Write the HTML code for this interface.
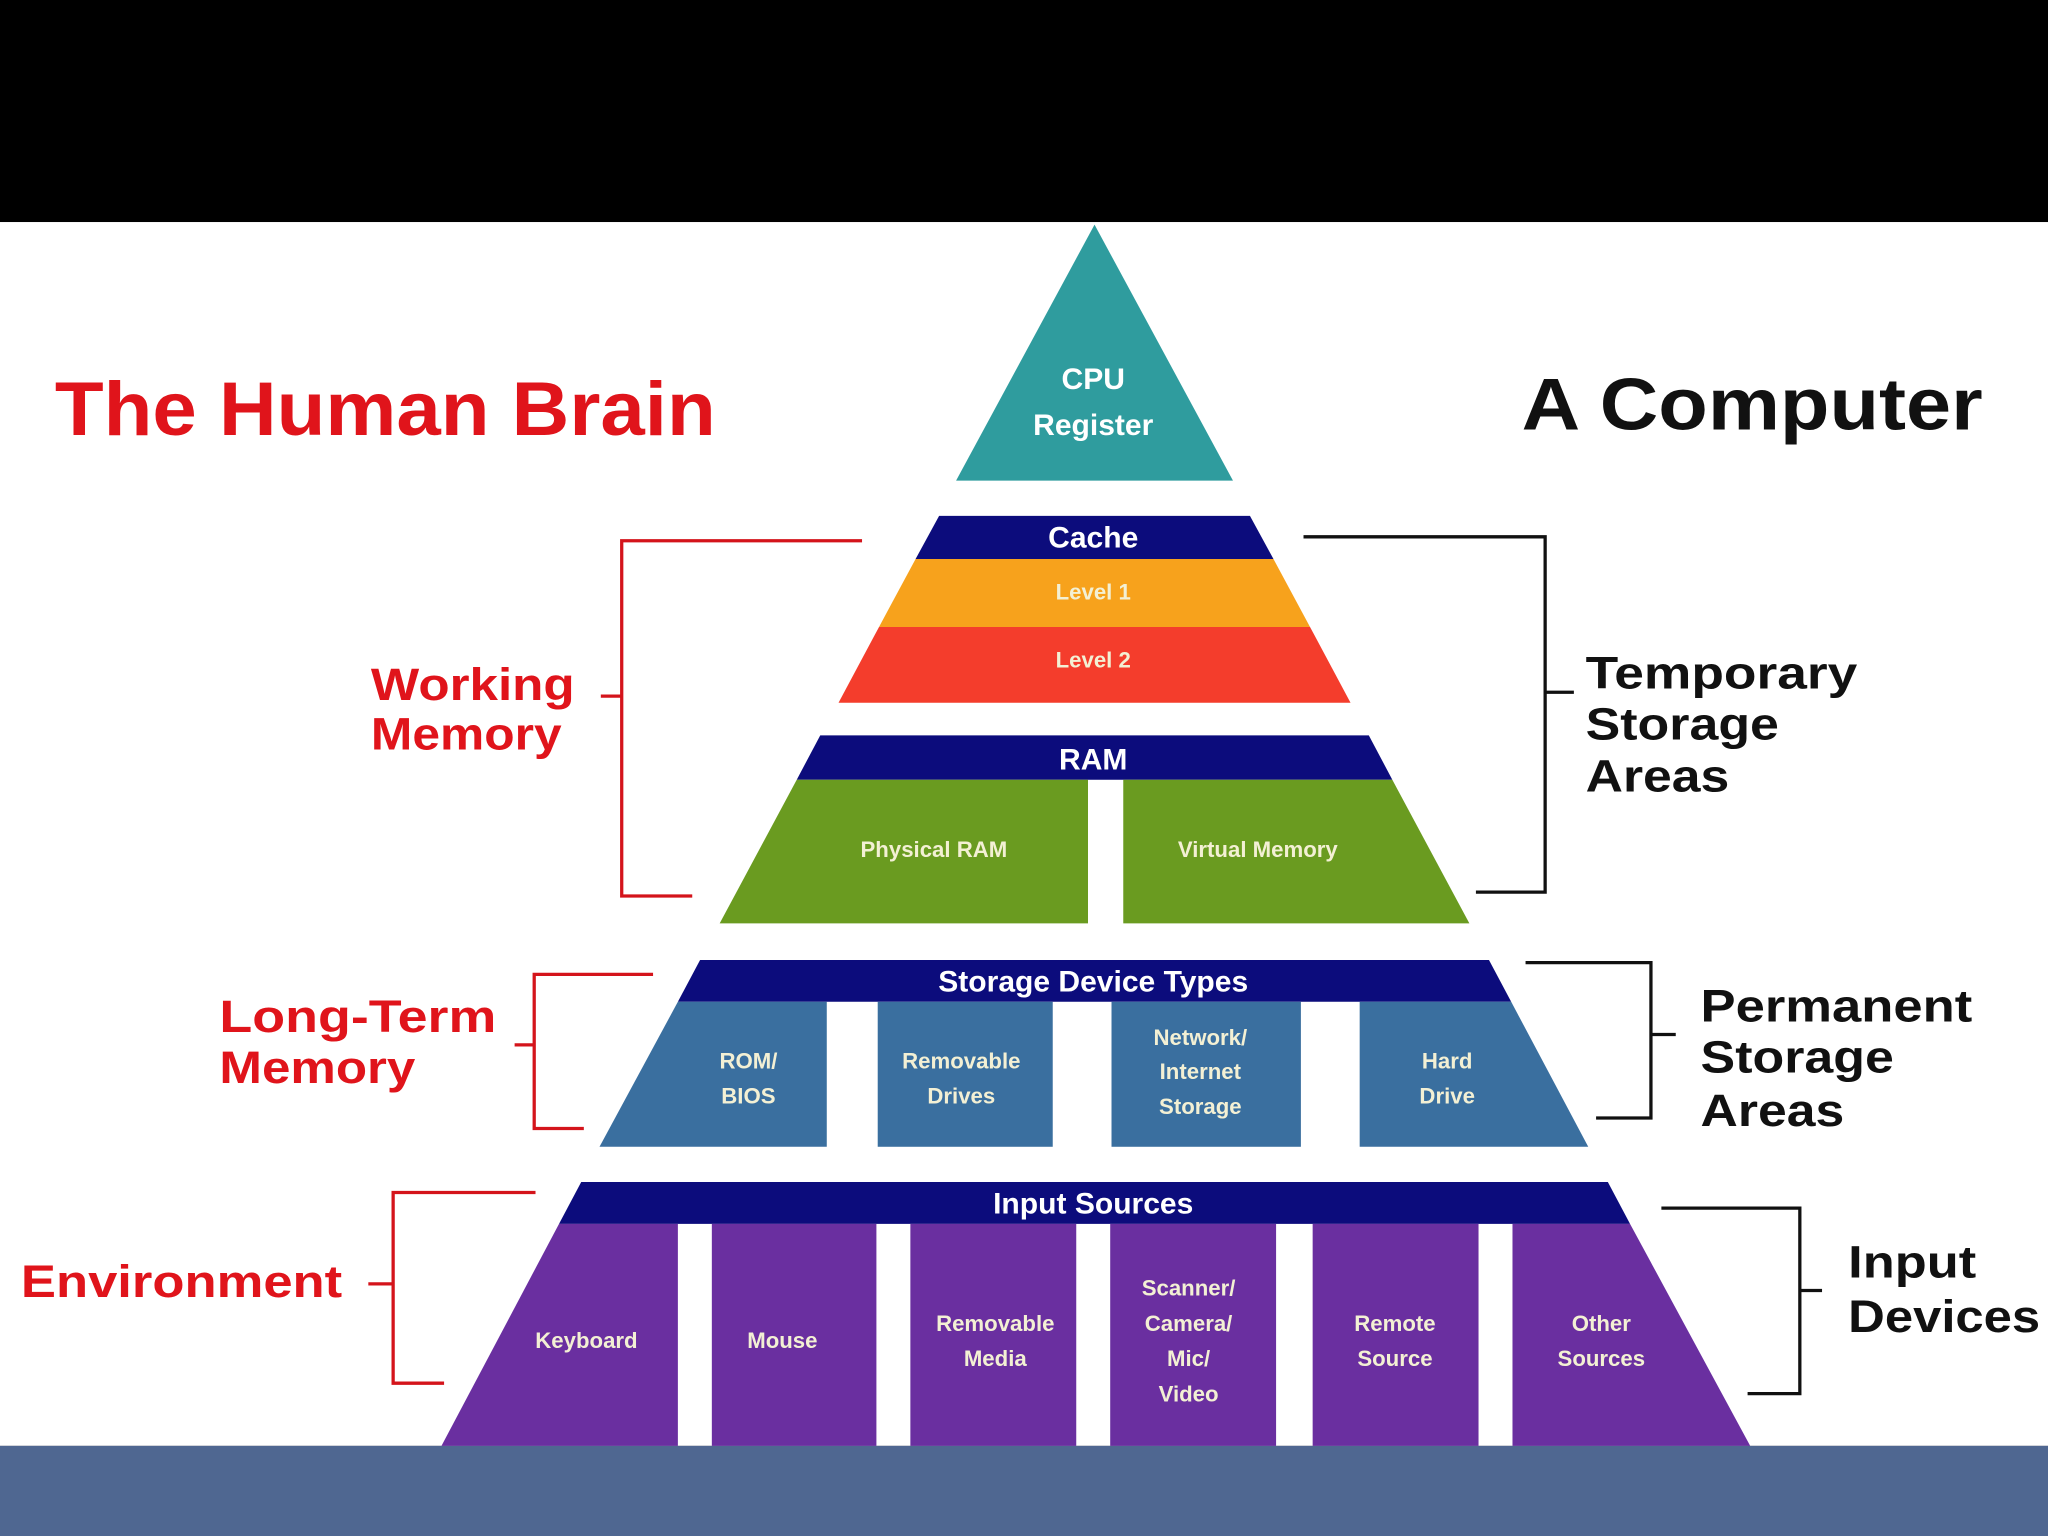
<!DOCTYPE html>
<html><head><style>html,body{margin:0;padding:0;background:#000}svg{display:block}</style></head>
<body>
<svg width="2048" height="1536" viewBox="0 0 1568 1176" xmlns="http://www.w3.org/2000/svg" font-family="Liberation Sans, sans-serif" font-weight="bold">
<rect width="1568" height="1176" fill="#000"/>
<rect y="170" width="1568" height="937" fill="#fff"/>
<rect y="1107" width="1568" height="69" fill="#4f6791"/>
<polygon points="838,172 732,368 944,368" fill="#2f9c9e"/>
<g fill="#fff" font-size="23" text-anchor="middle"><text x="837" y="298">CPU</text><text x="837" y="333">Register</text></g>
<polygon points="719,395 957,395 975,428 701,428" fill="#0c0c7c"/>
<polygon points="701,428 975,428 1003,480 673,480" fill="#f7a21c"/>
<polygon points="673,480 1003,480 1034,538 642,538" fill="#f43d2c"/>
<polygon points="628,563 1048,563 1066,597 610,597" fill="#0c0c7c"/>
<polygon points="610,597 833,597 833,707 551,707" fill="#6a9b20"/>
<polygon points="860,597 1066,597 1125,707 860,707" fill="#6a9b20"/>
<polygon points="536,735 1140,735 1157,767 519,767" fill="#0c0c7c"/>
<polygon points="519,767 633,767 633,878 459,878" fill="#3a6f9f"/>
<rect x="672" y="767" width="134" height="111" fill="#3a6f9f"/>
<rect x="851" y="767" width="145" height="111" fill="#3a6f9f"/>
<polygon points="1041,767 1157,767 1216,878 1041,878" fill="#3a6f9f"/>
<polygon points="445,905 1231,905 1248,937 428,937" fill="#0c0c7c"/>
<polygon points="428,937 519,937 519,1107 338,1107" fill="#6a2fa0"/>
<rect x="545" y="937" width="126" height="170" fill="#6a2fa0"/>
<rect x="697" y="937" width="127" height="170" fill="#6a2fa0"/>
<rect x="850" y="937" width="127" height="170" fill="#6a2fa0"/>
<rect x="1005" y="937" width="127" height="170" fill="#6a2fa0"/>
<polygon points="1158,937 1248,937 1340,1107 1158,1107" fill="#6a2fa0"/>
<g fill="#fff" font-size="23" text-anchor="middle">
<text x="837" y="419">Cache</text><text x="837" y="589">RAM</text>
<text x="837" y="759">Storage Device Types</text><text x="837" y="929">Input Sources</text></g>
<g fill="#f3f0d4" font-size="17" text-anchor="middle">
<text x="837" y="459">Level 1</text><text x="837" y="511">Level 2</text>
<text x="715" y="656">Physical RAM</text><text x="963" y="656">Virtual Memory</text>
<text x="573" y="818">ROM/</text><text x="573" y="845">BIOS</text>
<text x="736" y="818">Removable</text><text x="736" y="845">Drives</text>
<text x="919" y="800">Network/</text><text x="919" y="826">Internet</text><text x="919" y="853">Storage</text>
<text x="1108" y="818">Hard</text><text x="1108" y="845">Drive</text>
<text x="449" y="1032">Keyboard</text><text x="599" y="1032">Mouse</text>
<text x="762" y="1019">Removable</text><text x="762" y="1046">Media</text>
<text x="910" y="992">Scanner/</text><text x="910" y="1019">Camera/</text><text x="910" y="1046">Mic/</text><text x="910" y="1073">Video</text>
<text x="1068" y="1019">Remote</text><text x="1068" y="1046">Source</text>
<text x="1226" y="1019">Other</text><text x="1226" y="1046">Sources</text></g>
<g fill="none" stroke="#d4141b" stroke-width="2.5">
<polyline points="660,414 476,414 476,686 530,686"/><line x1="460" y1="533" x2="476" y2="533"/>
<polyline points="500,746 409,746 409,864 447,864"/><line x1="394" y1="800" x2="409" y2="800"/>
<polyline points="410,913 301,913 301,1059 340,1059"/><line x1="282" y1="983" x2="301" y2="983"/></g>
<g fill="none" stroke="#111" stroke-width="2.5">
<polyline points="998,411 1183,411 1183,683 1130,683"/><line x1="1183" y1="530" x2="1205" y2="530"/>
<polyline points="1168,737 1264,737 1264,856 1222,856"/><line x1="1264" y1="792" x2="1283" y2="792"/>
<polyline points="1272,925 1378,925 1378,1067 1338,1067"/><line x1="1378" y1="988" x2="1395" y2="988"/></g>
<text x="42" y="333" font-size="58" fill="#e0141b" textLength="506" lengthAdjust="spacingAndGlyphs">The Human Brain</text>
<text x="1165" y="329" font-size="56" fill="#111" textLength="353" lengthAdjust="spacingAndGlyphs">A Computer</text>
<g font-size="35" fill="#e0141b" lengthAdjust="spacingAndGlyphs">
<text x="284" y="536" textLength="156" lengthAdjust="spacingAndGlyphs">Working</text><text x="284" y="574" textLength="146" lengthAdjust="spacingAndGlyphs">Memory</text>
<text x="168" y="790" textLength="212" lengthAdjust="spacingAndGlyphs">Long-Term</text><text x="168" y="829" textLength="150" lengthAdjust="spacingAndGlyphs">Memory</text>
<text x="16" y="993" textLength="246" lengthAdjust="spacingAndGlyphs">Environment</text></g>
<g font-size="35" fill="#111">
<text x="1214" y="527" textLength="208" lengthAdjust="spacingAndGlyphs">Temporary</text><text x="1214" y="566" textLength="148" lengthAdjust="spacingAndGlyphs">Storage</text><text x="1214" y="606" textLength="110" lengthAdjust="spacingAndGlyphs">Areas</text>
<text x="1302" y="782" textLength="208" lengthAdjust="spacingAndGlyphs">Permanent</text><text x="1302" y="821" textLength="148" lengthAdjust="spacingAndGlyphs">Storage</text><text x="1302" y="862" textLength="110" lengthAdjust="spacingAndGlyphs">Areas</text>
<text x="1415" y="978" textLength="98" lengthAdjust="spacingAndGlyphs">Input</text><text x="1415" y="1020" textLength="147" lengthAdjust="spacingAndGlyphs">Devices</text></g>
</svg>
</body></html>
